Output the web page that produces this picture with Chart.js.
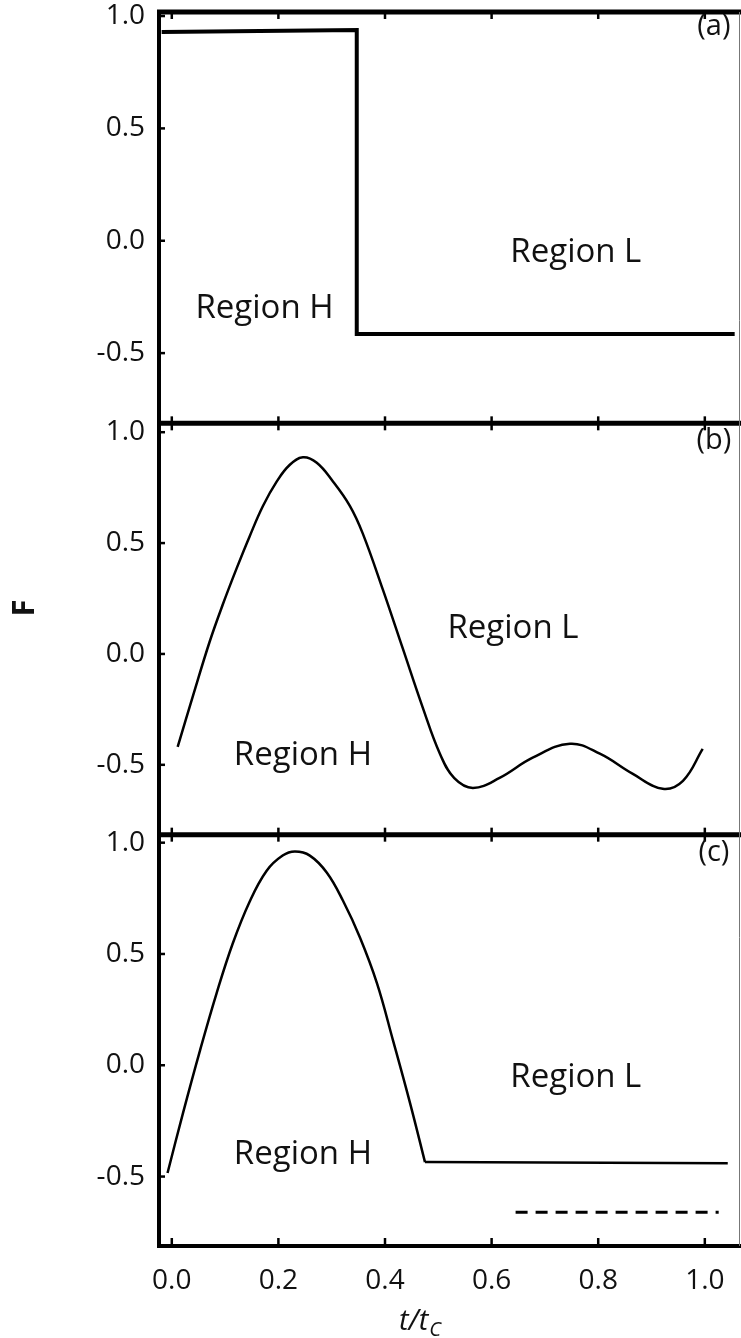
<!DOCTYPE html>
<html>
<head>
<meta charset="utf-8">
<script src="https://cdn.jsdelivr.net/npm/chart.js@4.4.1/dist/chart.umd.min.js"></script>
<style>
  html, body { margin: 0; padding: 0; background: #fff; }
  #wrap { position: relative; width: 741px; height: 1338px; }
</style>
</head>
<body>
<div id="wrap"><canvas id="chart"></canvas></div>
<script>
"use strict";

// shared axis ticks
const X_TICKS = [0, 0.2, 0.4, 0.6, 0.8, 1.0];
const Y_TICKS = [-0.5, 0, 0.5, 1.0];

// (a) step profile
const A_X = [-0.019, 0.347, 0.347, 1.056];
const A_F = [0.929, 0.938, -0.415, -0.415];

// (b) smooth oscillating profile
const B_X = [0.011, 0.040, 0.071, 0.096, 0.122, 0.146, 0.171, 0.197, 0.221, 0.246, 0.272,
  0.302, 0.334, 0.358, 0.396, 0.433, 0.471, 0.503, 0.530, 0.565, 0.615, 0.677, 0.747,
  0.803, 0.865, 0.921, 0.959, 0.996];
const B_F = [-0.419, -0.187, 0.055, 0.225, 0.388, 0.530, 0.667, 0.778, 0.852, 0.887, 0.862,
  0.779, 0.668, 0.545, 0.290, 0.027, -0.243, -0.450, -0.560, -0.604, -0.559, -0.468, -0.405,
  -0.450, -0.541, -0.608, -0.572, -0.428];

// (c) single hump ...
const C_X = [-0.008, 0.021, 0.053, 0.084, 0.114, 0.146, 0.178, 0.208, 0.231, 0.259, 0.291,
  0.321, 0.353, 0.385, 0.415, 0.447, 0.475];
const C_F = [-0.484, -0.215, 0.067, 0.323, 0.545, 0.735, 0.874, 0.942, 0.960, 0.942, 0.865,
  0.740, 0.574, 0.368, 0.112, -0.170, -0.435];
// ... then flat
const C_FLAT_X = [0.475, 1.043];
const C_FLAT_F = [-0.435, -0.44];

// (c) dashed level
const DASH_X = [0.645, 1.026];
const DASH_F = [-0.66, -0.66];

const toPoints = (xs, ys) => xs.map((x, i) => ({ x, y: ys[i] }));

// text placed in data coordinates of each panel
const NOTES = [
  { axis: "ya", x: 1.017, y: 0.951, text: "(a)" },
  { axis: "ya", x: 0.174, y: -0.30, text: "Region H" },
  { axis: "ya", x: 0.758, y: -0.054, text: "Region L" },
  { axis: "yb", x: 1.017, y: 0.96, text: "(b)" },
  { axis: "yb", x: 0.640, y: 0.113, text: "Region L" },
  { axis: "yb", x: 0.246, y: -0.46, text: "Region H" },
  { axis: "yc", x: 1.017, y: 0.955, text: "(c)" },
  { axis: "yc", x: 0.758, y: -0.054, text: "Region L" },
  { axis: "yc", x: 0.246, y: -0.40, text: "Region H" },
];

const FONT = "'Open Sans', 'DejaVu Sans', sans-serif";
const INK = "#111";

const framePlugin = {
  id: "frame",
  afterDraw(chart) {
    const { ctx, chartArea: area, scales } = chart;
    const xs = scales.x;
    ctx.save();
    ctx.strokeStyle = "#000";
    ctx.lineCap = "butt";

    // panel borders: top of (a), and the two separators
    const borders = [
      { y: scales.ya.top, up: 0, down: 7 },
      { y: scales.yb.top, up: 7, down: 7 },
      { y: scales.yc.top, up: 7, down: 7 },
    ];
    for (const b of borders) {
      ctx.lineWidth = 5;
      ctx.beginPath();
      ctx.moveTo(area.left - 2, b.y);
      ctx.lineTo(area.right + 1, b.y);
      ctx.stroke();
      ctx.lineWidth = 2.5;
      for (const t of X_TICKS) {
        const px = xs.getPixelForValue(t);
        ctx.beginPath();
        ctx.moveTo(px, b.y - b.up);
        ctx.lineTo(px, b.y + b.down);
        ctx.stroke();
      }
    }
    // inward ticks on the bottom axis
    ctx.lineWidth = 2.5;
    for (const t of X_TICKS) {
      const px = xs.getPixelForValue(t);
      ctx.beginPath();
      ctx.moveTo(px, area.bottom);
      ctx.lineTo(px, area.bottom - 8);
      ctx.stroke();
    }
    // inward ticks on each left axis
    for (const id of ["ya", "yb", "yc"]) {
      for (const v of Y_TICKS) {
        const py = scales[id].getPixelForValue(v);
        ctx.beginPath();
        ctx.moveTo(area.left, py);
        ctx.lineTo(area.left + 6, py);
        ctx.stroke();
      }
    }
    // thin right edge
    ctx.strokeStyle = "#777";
    ctx.lineWidth = 1;
    ctx.beginPath();
    ctx.moveTo(area.right - 0.5, scales.ya.top);
    ctx.lineTo(area.right - 0.5, area.bottom);
    ctx.stroke();

    // annotations
    ctx.fillStyle = INK;
    ctx.textBaseline = "middle";
    ctx.textAlign = "center";
    for (const n of NOTES) {
      ctx.font = `${n.text.startsWith("(") ? 29 : 33}px ${FONT}`;
      ctx.fillText(n.text, xs.getPixelForValue(n.x), scales[n.axis].getPixelForValue(n.y));
    }

    // y title "F"
    ctx.save();
    ctx.translate(25, 608);
    ctx.rotate(-Math.PI / 2);
    ctx.font = `bold 31px ${FONT}`;
    ctx.fillText("F", 0, 0);
    ctx.restore();

    // x title t/t_C
    ctx.textAlign = "left";
    ctx.textBaseline = "alphabetic";
    ctx.font = `italic 29px ${FONT}`;
    const main = "t/t";
    const w = ctx.measureText(main).width;
    const x0 = 399;
    ctx.fillText(main, x0, 1330);
    ctx.font = `italic 20px ${FONT}`;
    ctx.fillText("C", x0 + w + 1, 1336);
    ctx.restore();
  },
};

function noPad(s) {
  s.paddingTop = 0;
  s.paddingBottom = 0;
  s.paddingLeft = 0;
  s.paddingRight = 0;
}

function yAxis(min, max) {
  return {
    type: "linear",
    position: "left",
    stack: "panels",
    stackWeight: 1,
    min,
    max,
    offset: false,
    grid: { display: false, drawTicks: false },
    border: { display: true, width: 4, color: "#000" },
    afterBuildTicks: (s) => { s.ticks = Y_TICKS.map((v) => ({ value: v })); },
    afterFit: (s) => { s.width = 159; noPad(s); },
    ticks: {
      padding: 14,
      color: INK,
      font: { family: FONT, size: 28 },
      callback: (v) => Number(v).toFixed(1),
    },
  };
}

const line = (data, axis, width, extra) => Object.assign({
  data,
  yAxisID: axis,
  borderColor: "#000",
  borderWidth: width,
  pointRadius: 0,
  fill: false,
}, extra || {});

new Chart(document.getElementById("chart"), {
  type: "line",
  data: {
    datasets: [
      line(toPoints(A_X, A_F), "ya", 4, { tension: 0 }),
      line(toPoints(B_X, B_F), "yb", 2.5, { tension: 0.4 }),
      line(toPoints(C_X, C_F), "yc", 2.5, { tension: 0.4 }),
      line(toPoints(C_FLAT_X, C_FLAT_F), "yc", 2.5, { tension: 0 }),
      line(toPoints(DASH_X, DASH_F), "yc", 3, { borderDash: [12, 8], tension: 0 }),
    ],
  },
  options: {
    responsive: true,
    maintainAspectRatio: false,
    animation: false,
    layout: { padding: { top: 12, right: 1, left: 0, bottom: 0 } },
    plugins: { legend: { display: false }, tooltip: { enabled: false } },
    scales: {
      x: {
        type: "linear",
        position: "bottom",
        min: -0.024,
        max: 1.066,
        grid: { display: false, drawTicks: false },
        border: { display: true, width: 4, color: "#000" },
        afterBuildTicks: (s) => { s.ticks = X_TICKS.map((v) => ({ value: v })); },
        afterFit: (s) => { s.height = 92; noPad(s); },
        ticks: {
          padding: 18,
          color: INK,
          maxRotation: 0,
          autoSkip: false,
          font: { family: FONT, size: 28 },
          callback: (v) => Number(v).toFixed(1),
        },
      },
      // defined bottom-first: later stacked axes are placed higher
      yc: yAxis(-0.812, 1.036),
      yb: yAxis(-0.815, 1.04),
      ya: yAxis(-0.8125, 1.018),
    },
  },
  plugins: [framePlugin],
});
</script>
</body>
</html>
